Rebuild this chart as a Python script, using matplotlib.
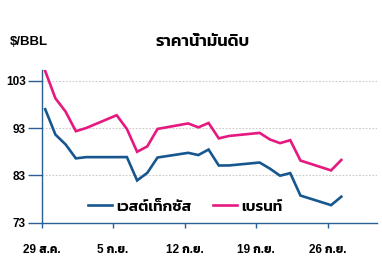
import matplotlib
matplotlib.use("Agg")
import matplotlib.pyplot as plt
import pandas as pd

# daily settle prices, $/BBL
dates = ["2022-08-29", "2022-08-30", "2022-08-31", "2022-09-01", "2022-09-02",
         "2022-09-05", "2022-09-06", "2022-09-07", "2022-09-08", "2022-09-09",
         "2022-09-12", "2022-09-13", "2022-09-14", "2022-09-15", "2022-09-16",
         "2022-09-19", "2022-09-20", "2022-09-21", "2022-09-22", "2022-09-23",
         "2022-09-26", "2022-09-27"]
wti = [97.01, 91.64, 89.55, 86.61, 86.87, 86.87, 86.88, 81.94, 83.54, 86.79,
       87.78, 87.31, 88.48, 85.10, 85.11, 85.73, 84.45, 82.94, 83.49, 78.74,
       76.71, 78.50]
brent = [105.09, 99.31, 96.49, 92.36, 93.02, 95.74, 92.83, 88.00, 89.15, 92.84,
         94.00, 93.17, 94.10, 90.84, 91.35, 92.00, 90.62, 89.83, 90.46, 86.15,
         84.06, 86.27]
tick_dates = ["2022-08-29", "2022-09-05", "2022-09-12", "2022-09-19", "2022-09-26"]
tick_labels = ["29 ส.ค.", "5 ก.ย.", "12 ก.ย.", "19 ก.ย.", "26 ก.ย."]
y_ticks = [73, 83, 93, 103]
series_names = ["เวสต์เท็กซัส", "เบรนท์"]

BLUE = "#17578f"
PINK = "#e5197f"
AXIS = "#2a5f96"
LATIN = ["Liberation Sans", "Kanit"]
THAI = ["Kanit", "Liberation Sans"]

start = pd.Timestamp(dates[0])
days = [(pd.Timestamp(d) - start).days for d in dates]
# prices are plotted a bit after the start of each day
shift = 0.35
ticks = [(pd.Timestamp(d) - start).days - shift for d in tick_dates]

fig = plt.figure(figsize=(3.82, 2.57), dpi=100)
ax = fig.add_axes([0.109, 0.1335, 0.878, 0.594])

ax.plot(days, wti, color=BLUE, lw=1.9, label=series_names[0], solid_joinstyle="miter")
ax.plot(days, brent, color=PINK, lw=1.9, label=series_names[1], solid_joinstyle="miter")

ax.set_xlim(-shift, 32.5)
ax.set_ylim(73, 105.3)
ax.set_yticks(y_ticks)
ax.set_xticks(ticks)
ax.set_xticklabels(tick_labels)

for y in y_ticks[1:]:
    ax.axhline(y, color="#c9c9c9", lw=0.8, ls=(0, (1.5, 1.5)), zorder=0)

for s in ["top", "right"]:
    ax.spines[s].set_visible(False)
for s in ["left", "bottom"]:
    ax.spines[s].set_color(AXIS)
    ax.spines[s].set_linewidth(1.0)

ax.tick_params(axis="y", length=10, width=1.0, color=AXIS, pad=1.5)
ax.tick_params(axis="x", length=3.5, width=1.0, color=AXIS, pad=11.5)
for lab in ax.get_yticklabels() + ax.get_xticklabels():
    lab.set_family(LATIN)
    lab.set_fontsize(8.5)
    lab.set_fontweight("bold")

leg = ax.legend(ncol=2, frameon=False, loc="center left",
                bbox_to_anchor=(0.138, 0.103), borderpad=0, borderaxespad=0,
                handlelength=1.6, handletextpad=0.25, columnspacing=1.4,
                prop={"family": THAI, "size": 11, "weight": "semibold"})

fig.text(10 / 382, 1 - 42 / 257, "$/BBL", family=LATIN, fontsize=9.5,
         fontweight="bold", va="center", ha="left")
fig.text(203 / 382, 1 - 42 / 257, "ราคาน้ำมันดิบ", family=THAI, fontsize=12,
         fontweight="semibold", va="center", ha="center")

fig.savefig("out.png", dpi=100)
